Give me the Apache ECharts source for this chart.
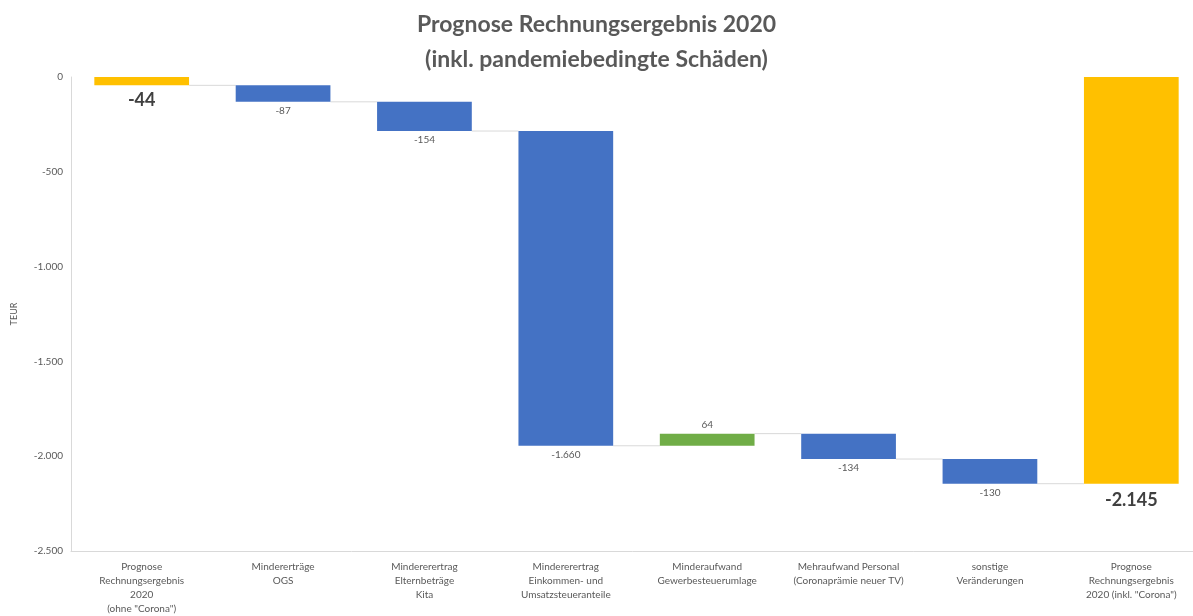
<!DOCTYPE html>
<html><head><meta charset="utf-8">
<script src="https://cdn.jsdelivr.net/npm/echarts@6/dist/echarts.min.js"></script>
<style>html,body{margin:0;padding:0;background:#fff}#c{width:1193px;height:616px}</style>
</head><body><div id="c"></div>
<script>
var categories = [
  'Prognose\nRechnungsergebnis\n2020\n(ohne "Corona")',
  'Mindererträge\nOGS',
  'Mindererertrag\nElternbeträge\nKita',
  'Mindererertrag\nEinkommen- und\nUmsatzsteueranteile',
  'Minderaufwand\nGewerbesteuerumlage',
  'Mehraufwand Personal\n(Coronaprämie neuer TV)',
  'sonstige\nVeränderungen',
  'Prognose\nRechnungsergebnis\n2020 (inkl. "Corona")'
];
var changes = [-44, -87, -154, -1660, 64, -134, -130];
var totalValue = -2145;
var yTicks = [0, -500, -1000, -1500, -2000, -2500];

function fmt(v){
  var s = Math.abs(v).toString().replace(/\B(?=(\d{3})+(?!\d))/g, '.');
  return (v < 0 ? '-' : '') + s;
}

var YELLOW = '#FFC000', BLUE = '#4472C4', GREEN = '#70AD47';
var baseData = [], deltaData = [], connectors = [];
var level = 0;
for (var i = 0; i < changes.length; i++) {
  var s = level, e = level + changes[i];
  var upper = Math.max(s, e), lower = Math.min(s, e);
  var isFirst = i === 0;
  var color = isFirst ? YELLOW : (changes[i] > 0 ? GREEN : BLUE);
  baseData.push(upper);
  deltaData.push({
    value: lower - upper,
    itemStyle: {color: color},
    label: {
      show: true,
      position: changes[i] > 0 ? 'top' : 'bottom',
      formatter: fmt(changes[i]),
      fontSize: isFirst ? 18 : 10,
      fontWeight: isFirst ? 'bold' : 'normal',
      color: isFirst ? '#404040' : '#595959',
      distance: isFirst ? 6 : 4
    }
  });
  level = e;
  connectors.push([i, level]);
}
baseData.push(0);
deltaData.push({
  value: totalValue,
  itemStyle: {color: YELLOW},
  label: {show: true, position: 'bottom', formatter: fmt(totalValue), fontSize: 18, fontWeight: 'bold', color: '#404040', distance: 7}
});

var chart = echarts.init(document.getElementById('c'), null, {renderer: 'canvas'});
chart.setOption({
  animation: false,
  backgroundColor: '#fff',
  textStyle: {fontFamily: 'Lato, "Open Sans", sans-serif'},
  title: {
    text: 'Prognose Rechnungsergebnis 2020\n(inkl. pandemiebedingte Schäden)',
    left: 'center', top: 2,
    textStyle: {fontSize: 23, fontWeight: 'bold', color: '#595959', lineHeight: 35, fontFamily: 'Lato, sans-serif'}
  },
  grid: {left: 71, top: 77, right: -9, bottom: 65, containLabel: false, outerBoundsMode: 'none'},
  xAxis: {
    type: 'category', data: categories,
    axisLine: {show: true, onZero: false, lineStyle: {color: '#D9D9D9'}},
    axisTick: {show: false},
    axisLabel: {interval: 0, color: '#595959', fontSize: 10, lineHeight: 14, margin: 9}
  },
  yAxis: {
    type: 'value', min: -2500, max: 0, interval: 500,
    name: 'TEUR', nameLocation: 'middle', nameGap: 52, nameRotate: 90,
    nameTextStyle: {color: '#595959', fontSize: 9},
    axisLine: {show: true, lineStyle: {color: '#D9D9D9'}},
    axisTick: {show: false},
    splitLine: {show: false},
    axisLabel: {color: '#595959', fontSize: 10, margin: 8, formatter: function(v){ return fmt(v); }}
  },
  series: [
    {
      type: 'custom', z: 1, silent: true,
      data: connectors,
      renderItem: function(params, api) {
        var idx = api.value(0);
        var p1 = api.coord([idx, api.value(1)]);
        var p2 = api.coord([idx + 1, api.value(1)]);
        var half = api.size([1, 0])[0] * 0.335;
        return {type: 'line', shape: {x1: p1[0] + half, y1: p1[1], x2: p2[0] - half, y2: p2[1]},
                style: {stroke: '#D9D9D9', lineWidth: 1}};
      }
    },
    {type: 'bar', stack: 'w', data: baseData, barWidth: '67%', itemStyle: {color: 'transparent'}, silent: true, z: 2},
    {type: 'bar', stack: 'w', data: deltaData, barWidth: '67%', z: 3}
  ]
});
</script></body></html>
